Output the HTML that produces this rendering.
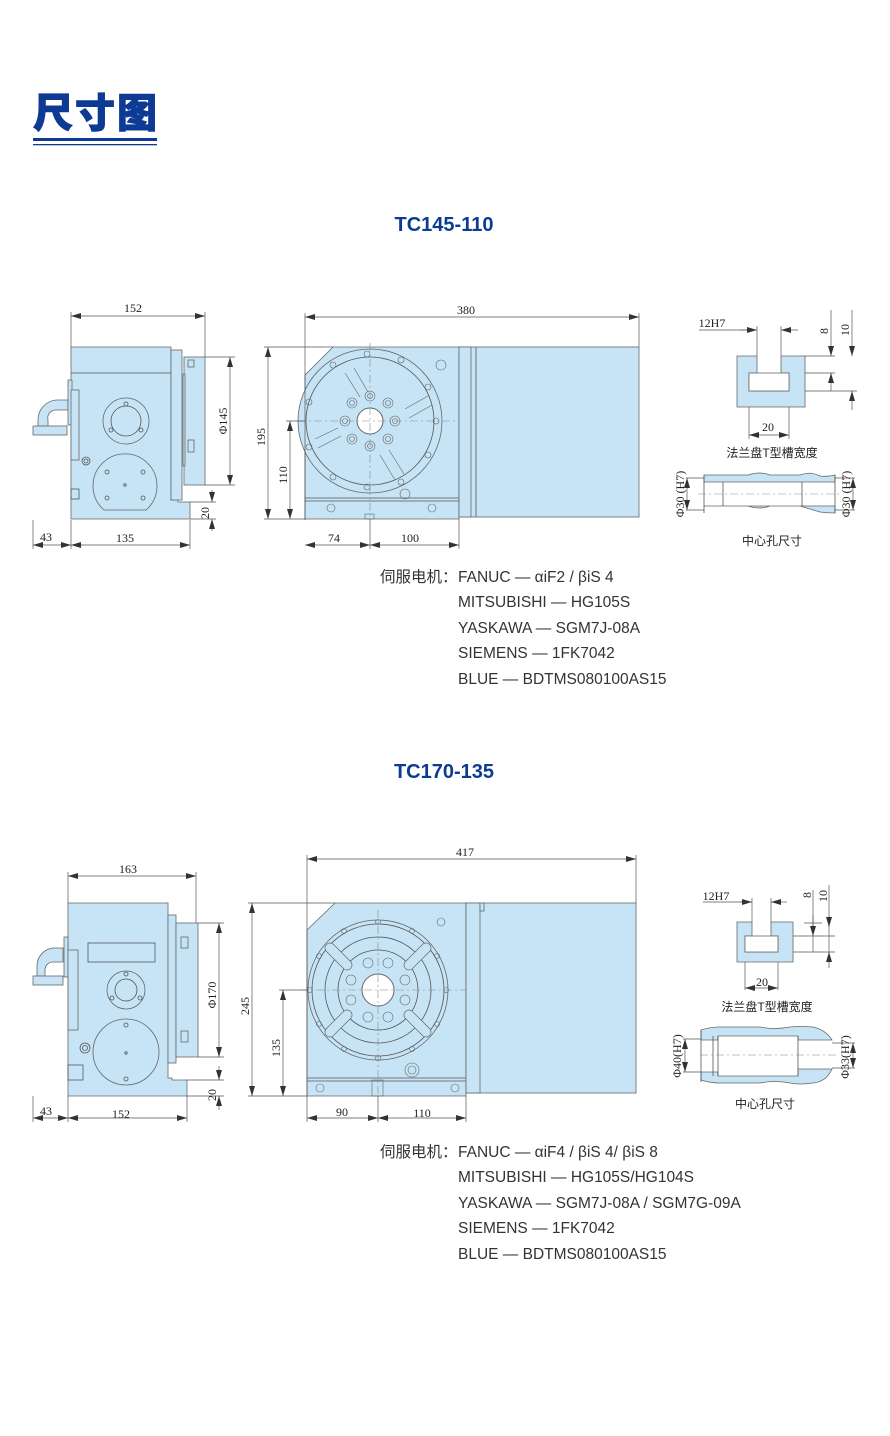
<!DOCTYPE html>
<html><head><meta charset="utf-8"><style>
html,body{margin:0;padding:0;background:#fff;}
svg{display:block}
.d{stroke:#555;stroke-width:.7;fill:none}
.b{fill:#c6e4f6;stroke:#666;stroke-width:.8}
.l{fill:none;stroke:#555;stroke-width:.8}
.c{stroke:#888;stroke-width:.6;stroke-dasharray:8 3 2 3;fill:none}
.n{font-family:"Liberation Serif",serif;font-size:12px;fill:#222}
.cn{font-family:"Liberation Sans","Noto Sans CJK SC",sans-serif;font-size:12px;fill:#222}
.t{font-family:"Liberation Sans","Noto Sans CJK SC",sans-serif;font-size:15.5px;fill:#333}
.h{font-family:"Liberation Sans",sans-serif;font-size:20px;font-weight:bold;fill:#0d3b94}
</style></head><body>
<svg width="890" height="1436" viewBox="0 0 890 1436" xmlns="http://www.w3.org/2000/svg">
<defs>
<marker id="a" viewBox="0 0 10 6" refX="10" refY="3" markerWidth="10" markerHeight="6" orient="auto-start-reverse" markerUnits="userSpaceOnUse"><path d="M0,0 L10,3 L0,6z" fill="#333"/></marker>
</defs>
<text x="33" y="127" font-family="Liberation Sans,Noto Sans CJK SC,sans-serif" font-size="40" font-weight="900" fill="#0d3b94" stroke="#0d3b94" stroke-width="1" textLength="124">尺寸图</text>
<rect x="33" y="138" width="124" height="3" fill="#0d3b94"/>
<rect x="33" y="144" width="124" height="1.3" fill="#0d3b94"/>

<!-- ===== SECTION 1 ===== -->
<text class="h" x="444" y="231" text-anchor="middle">TC145-110</text>
<g>
<path class="b" d="M71,347 H171 V500 H178 V502 H190 V519 H71Z"/>
<line class="l" x1="71" y1="373" x2="171" y2="373"/>
<rect class="b" x="171" y="350" width="11" height="150"/>
<rect class="b" x="184" y="357" width="21" height="128"/>
<rect class="b" x="183" y="374" width="2" height="92"/>
<rect class="b" x="188" y="360" width="6" height="7"/><rect class="b" x="188" y="440" width="6" height="12"/>
<path class="b" d="M68,400 H56 A20,20 0 0 0 38,420 V426 H48 V420 A8,8 0 0 1 56,410 H68Z"/>
<rect class="b" x="33" y="426" width="34" height="9"/>
<rect class="b" x="68" y="380" width="4" height="45"/>
<rect class="b" x="71" y="390" width="8" height="70"/>
<circle class="b" cx="126" cy="421" r="23"/><circle class="l" cx="126" cy="421" r="15" stroke-width=".4"/>
<circle class="l" cx="126" cy="404" r="2"/><circle class="l" cx="111" cy="430" r="2"/><circle class="l" cx="141" cy="430" r="2"/>
<path class="b" d="M104,510 A32,32 0 1 1 146,510Z"/>
<circle class="l" cx="125" cy="485" r="1.2"/>
<circle class="l" cx="107" cy="472" r="2"/><circle class="l" cx="143" cy="472" r="2"/><circle class="l" cx="107" cy="498" r="2"/><circle class="l" cx="143" cy="498" r="2"/>
<circle class="l" cx="86" cy="461" r="4"/><circle class="l" cx="86" cy="461" r="2"/>
<rect class="l" x="71" y="489" width="8" height="10"/>
</g>
<line class="d" x1="71" y1="312" x2="71" y2="347"/><line class="d" x1="205" y1="312" x2="205" y2="357"/>
<line class="d" x1="71" y1="316" x2="205" y2="316" marker-start="url(#a)" marker-end="url(#a)"/>
<text class="n" x="133" y="312" text-anchor="middle">152</text>
<line class="d" x1="205" y1="357" x2="235" y2="357"/><line class="d" x1="205" y1="485" x2="235" y2="485"/>
<line class="d" x1="230" y1="357" x2="230" y2="485" marker-start="url(#a)" marker-end="url(#a)"/>
<text class="n" transform="translate(227,421) rotate(-90)" text-anchor="middle">Φ145</text>
<line class="d" x1="190" y1="502" x2="216" y2="502"/><line class="d" x1="190" y1="519" x2="216" y2="519"/>
<line class="d" x1="212" y1="490" x2="212" y2="502" marker-end="url(#a)"/><line class="d" x1="212" y1="531" x2="212" y2="519" marker-end="url(#a)"/>
<text class="n" transform="translate(209,513) rotate(-90)" text-anchor="middle">20</text>
<line class="d" x1="33" y1="520" x2="33" y2="549"/><line class="d" x1="71" y1="520" x2="71" y2="549"/><line class="d" x1="190" y1="520" x2="190" y2="549"/>
<line class="d" x1="33" y1="545" x2="71" y2="545" marker-start="url(#a)" marker-end="url(#a)"/>
<line class="d" x1="71" y1="545" x2="190" y2="545" marker-start="url(#a)" marker-end="url(#a)"/>
<text class="n" x="46" y="541" text-anchor="middle">43</text><text class="n" x="125" y="542" text-anchor="middle">135</text>

<g>
<path class="b" d="M305,375 L333,347 H459 V519 H305Z"/>
<line class="l" x1="305" y1="498" x2="459" y2="498"/><line class="l" x1="305" y1="501" x2="459" y2="501"/>
<rect class="b" x="459" y="347" width="180" height="170"/>
<rect class="b" x="459" y="347" width="12" height="170"/>
<line class="l" x1="476" y1="347" x2="476" y2="517"/>
<circle class="b" cx="370" cy="421" r="72"/><circle class="l" cx="370" cy="421" r="64" stroke-width=".6"/>
<g fill="none" stroke="#666" stroke-width=".6">
<path d="M345,373 L360,397 M354,368 L368,392"/>
<path d="M405,409 L428,396 M409,418 L432,405"/>
<path d="M380,455 L395,480 M389,450 L404,474"/>
<path d="M315,439 L338,428 M318,448 L341,436"/>
</g>
<circle cx="370" cy="421" r="13" fill="#fff" stroke="#666"/>
<g fill="none" stroke="#666" stroke-width=".6">
<circle cx="370" cy="396" r="5"/><circle cx="370" cy="396" r="2.5"/>
<circle cx="370" cy="446" r="5"/><circle cx="370" cy="446" r="2.5"/>
<circle cx="345" cy="421" r="5"/><circle cx="345" cy="421" r="2.5"/>
<circle cx="395" cy="421" r="5"/><circle cx="395" cy="421" r="2.5"/>
<circle cx="352" cy="403" r="5"/><circle cx="352" cy="403" r="2.5"/>
<circle cx="388" cy="403" r="5"/><circle cx="388" cy="403" r="2.5"/>
<circle cx="352" cy="439" r="5"/><circle cx="352" cy="439" r="2.5"/>
<circle cx="388" cy="439" r="5"/><circle cx="388" cy="439" r="2.5"/>
<circle cx="367" cy="354" r="3"/><circle cx="367" cy="487" r="3"/><circle cx="436" cy="421" r="3"/><circle cx="309" cy="402" r="3"/>
<circle cx="333" cy="365" r="3"/><circle cx="401" cy="360" r="3"/><circle cx="428" cy="387" r="3"/><circle cx="428" cy="455" r="3"/>
<circle cx="333" cy="477" r="3"/><circle cx="401" cy="482" r="3"/><circle cx="309" cy="447" r="3"/>
<circle cx="441" cy="365" r="5"/><circle cx="405" cy="494" r="5"/><circle cx="331" cy="508" r="4"/><circle cx="432" cy="508" r="4"/>
<rect x="365" y="514" width="9" height="5"/>
</g>
<line class="c" x1="298" y1="421" x2="459" y2="421"/><line class="c" x1="370" y1="343" x2="370" y2="519"/>
</g>
<line class="d" x1="305" y1="313" x2="305" y2="520"/><line class="d" x1="639" y1="313" x2="639" y2="347"/>
<line class="d" x1="305" y1="317" x2="639" y2="317" marker-start="url(#a)" marker-end="url(#a)"/>
<text class="n" x="466" y="314" text-anchor="middle">380</text>
<line class="d" x1="264" y1="347" x2="333" y2="347"/><line class="d" x1="264" y1="519" x2="305" y2="519"/>
<line class="d" x1="268" y1="347" x2="268" y2="519" marker-start="url(#a)" marker-end="url(#a)"/>
<text class="n" transform="translate(265,437) rotate(-90)" text-anchor="middle">195</text>
<line class="d" x1="286" y1="421" x2="305" y2="421"/>
<line class="d" x1="290" y1="421" x2="290" y2="519" marker-start="url(#a)" marker-end="url(#a)"/>
<text class="n" transform="translate(287,475) rotate(-90)" text-anchor="middle">110</text>
<line class="d" x1="370" y1="519" x2="370" y2="549"/><line class="d" x1="459" y1="519" x2="459" y2="549"/>
<line class="d" x1="305" y1="545" x2="370" y2="545" marker-start="url(#a)" marker-end="url(#a)"/>
<line class="d" x1="370" y1="545" x2="459" y2="545" marker-start="url(#a)" marker-end="url(#a)"/>
<text class="n" x="334" y="542" text-anchor="middle">74</text><text class="n" x="410" y="542" text-anchor="middle">100</text>

<path class="b" d="M737,356 H757 V373 H749 V391 H789 V373 H781 V356 H805 V407 H737Z"/>
<rect x="749" y="373" width="40" height="18" fill="#fff" stroke="#666" stroke-width=".8"/>
<line class="d" x1="757" y1="356" x2="757" y2="326"/><line class="d" x1="781" y1="356" x2="781" y2="326"/>
<line class="d" x1="699" y1="330" x2="757" y2="330"/>
<line class="d" x1="740" y1="330" x2="757" y2="330" marker-end="url(#a)"/><line class="d" x1="798" y1="330" x2="781" y2="330" marker-end="url(#a)"/>
<text class="n" x="712" y="327" text-anchor="middle" font-size="11">12H7</text>
<line class="d" x1="749" y1="407" x2="749" y2="439"/><line class="d" x1="789" y1="407" x2="789" y2="439"/>
<line class="d" x1="749" y1="435" x2="789" y2="435" marker-start="url(#a)" marker-end="url(#a)"/>
<text class="n" x="768" y="431" text-anchor="middle" font-size="11">20</text>
<line class="d" x1="805" y1="356" x2="835" y2="356"/><line class="d" x1="805" y1="373" x2="835" y2="373"/><line class="d" x1="805" y1="391" x2="857" y2="391"/>
<line class="d" x1="831" y1="310" x2="831" y2="356" marker-end="url(#a)"/><line class="d" x1="831" y1="391" x2="831" y2="373" marker-end="url(#a)"/>
<line class="d" x1="852" y1="310" x2="852" y2="356" marker-end="url(#a)"/><line class="d" x1="852" y1="410" x2="852" y2="391" marker-end="url(#a)"/>
<text class="n" transform="translate(828,331) rotate(-90)" text-anchor="middle" font-size="11">8</text>
<text class="n" transform="translate(849,330) rotate(-90)" text-anchor="middle" font-size="11">10</text>
<text class="cn" x="772" y="457" text-anchor="middle">法兰盘T型槽宽度</text>
<path class="b" d="M704,475 H748 Q760,471 770,475 H800 Q810,471 820,476 Q827,477 835,475 V482 H704Z"/>
<path class="b" d="M704,506 H748 Q760,510 770,506 H800 Q810,509 820,512 Q827,513 835,513 V506 H704Z"/>
<line class="l" x1="704" y1="475" x2="704" y2="513" stroke-width=".5"/><line class="l" x1="723" y1="482" x2="723" y2="506" stroke-width=".5"/>
<line class="l" x1="802" y1="482" x2="802" y2="506" stroke-width=".5"/><line class="l" x1="835" y1="475" x2="835" y2="513" stroke-width=".5"/>
<line class="c" x1="698" y1="494" x2="840" y2="494"/>
<line class="d" x1="686" y1="478" x2="704" y2="478"/><line class="d" x1="686" y1="510" x2="704" y2="510"/>
<line class="d" x1="687" y1="478" x2="687" y2="510" marker-start="url(#a)" marker-end="url(#a)"/>
<text class="n" transform="translate(684,494) rotate(-90)" text-anchor="middle" font-size="11">Φ30 (H7)</text>
<line class="d" x1="835" y1="478" x2="855" y2="478"/><line class="d" x1="835" y1="510" x2="855" y2="510"/>
<line class="d" x1="853" y1="478" x2="853" y2="510" marker-start="url(#a)" marker-end="url(#a)"/>
<text class="n" transform="translate(850,494) rotate(-90)" text-anchor="middle" font-size="11">Φ30 (H7)</text>
<text class="cn" x="772" y="545" text-anchor="middle">中心孔尺寸</text>

<text class="t" x="380" y="582">伺服电机：</text>
<text class="t" x="458" y="582">FANUC — αiF2 / βiS 4</text>
<text class="t" x="458" y="607">MITSUBISHI — HG105S</text>
<text class="t" x="458" y="633">YASKAWA — SGM7J-08A</text>
<text class="t" x="458" y="658">SIEMENS — 1FK7042</text>
<text class="t" x="458" y="684">BLUE —  BDTMS080100AS15</text>

<!-- ===== SECTION 2 ===== -->
<text class="h" x="444" y="778" text-anchor="middle">TC170-135</text>
<g>
<path class="b" d="M68,903 H168 V1078 H172 V1080 H187 V1096 H68Z"/>
<rect class="b" x="168" y="915" width="8" height="148"/>
<rect class="b" x="176" y="923" width="22" height="134"/>
<rect class="b" x="181" y="937" width="7" height="11"/><rect class="b" x="181" y="1031" width="7" height="11"/>
<path class="b" d="M63,948 H53 A18,18 0 0 0 37,966 V976 H45 V970 A8,8 0 0 1 53,962 H63Z"/>
<rect class="b" x="33" y="976" width="30" height="9"/>
<rect class="b" x="64" y="937" width="4" height="40"/>
<rect class="b" x="68" y="950" width="10" height="80"/>
<rect class="l" x="88" y="943" width="67" height="19" stroke-width=".6"/>
<circle class="b" cx="126" cy="990" r="19"/><circle class="l" cx="126" cy="990" r="11"/>
<circle class="l" cx="126" cy="974" r="2"/><circle class="l" cx="112" cy="998" r="2"/><circle class="l" cx="140" cy="998" r="2"/>
<circle class="b" cx="126" cy="1052" r="33"/>
<circle class="l" cx="126" cy="1053" r="1.2"/><circle class="l" cx="126" cy="1025" r="2"/><circle class="l" cx="126" cy="1079" r="2"/>
<circle class="l" cx="85" cy="1048" r="5"/><circle class="l" cx="85" cy="1048" r="2.5"/>
<rect class="l" x="68" y="1065" width="15" height="15"/>
</g>
<line class="d" x1="68" y1="872" x2="68" y2="903"/><line class="d" x1="196" y1="872" x2="196" y2="923"/>
<line class="d" x1="68" y1="876" x2="196" y2="876" marker-start="url(#a)" marker-end="url(#a)"/>
<text class="n" x="128" y="873" text-anchor="middle">163</text>
<line class="d" x1="198" y1="923" x2="224" y2="923"/><line class="d" x1="198" y1="1057" x2="224" y2="1057"/>
<line class="d" x1="219" y1="923" x2="219" y2="1057" marker-start="url(#a)" marker-end="url(#a)"/>
<text class="n" transform="translate(216,995) rotate(-90)" text-anchor="middle">Φ170</text>
<line class="d" x1="187" y1="1080" x2="224" y2="1080"/><line class="d" x1="187" y1="1096" x2="224" y2="1096"/>
<line class="d" x1="219" y1="1066" x2="219" y2="1080" marker-end="url(#a)"/><line class="d" x1="219" y1="1110" x2="219" y2="1096" marker-end="url(#a)"/>
<text class="n" transform="translate(216,1095) rotate(-90)" text-anchor="middle">20</text>
<line class="d" x1="33" y1="1096" x2="33" y2="1122"/><line class="d" x1="68" y1="1096" x2="68" y2="1122"/><line class="d" x1="187" y1="1096" x2="187" y2="1122"/>
<line class="d" x1="33" y1="1118" x2="68" y2="1118" marker-start="url(#a)" marker-end="url(#a)"/>
<line class="d" x1="68" y1="1118" x2="187" y2="1118" marker-start="url(#a)" marker-end="url(#a)"/>
<text class="n" x="46" y="1115" text-anchor="middle">43</text><text class="n" x="121" y="1118" text-anchor="middle">152</text>

<g>
<path class="b" d="M307,930 L335,903 H466 V1096 H307Z"/>
<line class="l" x1="307" y1="1078" x2="466" y2="1078"/><line class="l" x1="307" y1="1081" x2="466" y2="1081"/>
<rect class="b" x="466" y="903" width="170" height="190"/>
<rect class="b" x="466" y="903" width="14" height="190"/>
<rect class="b" x="480" y="903" width="4" height="8"/>
<circle class="b" cx="378" cy="990" r="70"/><circle class="l" cx="378" cy="990" r="66" stroke-width=".4"/>
<circle class="l" cx="378" cy="990" r="53"/><circle class="l" cx="378" cy="990" r="40"/>
<g stroke="#666" stroke-width=".7" fill="#c6e4f6">
<path d="M333,944 L351,962 A5,5 0 0 1 344,969 L326,951 A5,5 0 0 1 333,944Z"/>
<path d="M423,944 L405,962 A5,5 0 0 0 412,969 L430,951 A5,5 0 0 0 423,944Z"/>
<path d="M333,1036 L351,1018 A5,5 0 0 0 344,1011 L326,1029 A5,5 0 0 0 333,1036Z"/>
<path d="M423,1036 L405,1018 A5,5 0 0 1 412,1011 L430,1029 A5,5 0 0 1 423,1036Z"/>
</g>
<circle cx="378" cy="990" r="16" fill="#fff" stroke="#666"/>
<g fill="none" stroke="#666" stroke-width=".6">
<circle cx="368" cy="963" r="5"/><circle cx="388" cy="963" r="5"/><circle cx="368" cy="1017" r="5"/><circle cx="388" cy="1017" r="5"/>
<circle cx="351" cy="980" r="5"/><circle cx="351" cy="1000" r="5"/><circle cx="405" cy="980" r="5"/><circle cx="405" cy="1000" r="5"/>
<circle cx="378" cy="922" r="2.5"/><circle cx="378" cy="1058" r="2.5"/><circle cx="310" cy="990" r="2.5"/><circle cx="446" cy="990" r="2.5"/>
<circle cx="344" cy="931" r="2.5"/><circle cx="412" cy="931" r="2.5"/><circle cx="319" cy="956" r="2.5"/><circle cx="437" cy="956" r="2.5"/>
<circle cx="319" cy="1024" r="2.5"/><circle cx="437" cy="1024" r="2.5"/><circle cx="344" cy="1049" r="2.5"/><circle cx="412" cy="1049" r="2.5"/>
<circle cx="441" cy="922" r="4"/><circle cx="320" cy="1088" r="4"/><circle cx="455" cy="1088" r="4"/>
<circle cx="412" cy="1070" r="7"/><circle cx="412" cy="1070" r="4"/>
<rect x="372" y="1080" width="11" height="16"/>
</g>
<line class="c" x1="300" y1="990" x2="466" y2="990"/><line class="c" x1="378" y1="910" x2="378" y2="1096"/>
</g>
<line class="d" x1="307" y1="855" x2="307" y2="1122"/><line class="d" x1="636" y1="855" x2="636" y2="903"/>
<line class="d" x1="307" y1="859" x2="636" y2="859" marker-start="url(#a)" marker-end="url(#a)"/>
<text class="n" x="465" y="856" text-anchor="middle">417</text>
<line class="d" x1="248" y1="903" x2="335" y2="903"/><line class="d" x1="248" y1="1096" x2="307" y2="1096"/>
<line class="d" x1="252" y1="903" x2="252" y2="1096" marker-start="url(#a)" marker-end="url(#a)"/>
<text class="n" transform="translate(249,1006) rotate(-90)" text-anchor="middle">245</text>
<line class="d" x1="279" y1="990" x2="307" y2="990"/>
<line class="d" x1="283" y1="990" x2="283" y2="1096" marker-start="url(#a)" marker-end="url(#a)"/>
<text class="n" transform="translate(280,1048) rotate(-90)" text-anchor="middle">135</text>
<line class="d" x1="378" y1="1096" x2="378" y2="1122"/><line class="d" x1="466" y1="1096" x2="466" y2="1122"/>
<line class="d" x1="307" y1="1118" x2="378" y2="1118" marker-start="url(#a)" marker-end="url(#a)"/>
<line class="d" x1="378" y1="1118" x2="466" y2="1118" marker-start="url(#a)" marker-end="url(#a)"/>
<text class="n" x="342" y="1116" text-anchor="middle">90</text><text class="n" x="422" y="1117" text-anchor="middle">110</text>

<path class="b" d="M737,922 H752 V936 H745 V952 H778 V936 H771 V922 H793 V962 H737Z"/>
<rect x="745" y="936" width="33" height="16" fill="#fff" stroke="#666" stroke-width=".8"/>
<line class="d" x1="752" y1="922" x2="752" y2="898"/><line class="d" x1="771" y1="922" x2="771" y2="898"/>
<line class="d" x1="703" y1="902" x2="752" y2="902"/>
<line class="d" x1="740" y1="902" x2="752" y2="902" marker-end="url(#a)"/><line class="d" x1="787" y1="902" x2="771" y2="902" marker-end="url(#a)"/>
<text class="n" x="716" y="900" text-anchor="middle" font-size="11">12H7</text>
<line class="d" x1="745" y1="962" x2="745" y2="990"/><line class="d" x1="778" y1="962" x2="778" y2="990"/>
<line class="d" x1="745" y1="988" x2="778" y2="988" marker-start="url(#a)" marker-end="url(#a)"/>
<text class="n" x="762" y="986" text-anchor="middle" font-size="11">20</text>
<line class="d" x1="804" y1="923" x2="822" y2="923"/><line class="d" x1="793" y1="936" x2="835" y2="936"/><line class="d" x1="793" y1="952" x2="835" y2="952"/>
<line class="d" x1="813" y1="890" x2="813" y2="936"/>
<line class="d" x1="813" y1="915" x2="813" y2="936" marker-end="url(#a)"/><line class="d" x1="813" y1="952" x2="813" y2="936"/>
<line class="d" x1="829" y1="885" x2="829" y2="968"/>
<line class="d" x1="829" y1="920" x2="829" y2="927" marker-end="url(#a)"/><line class="d" x1="829" y1="962" x2="829" y2="952" marker-end="url(#a)"/>
<text class="n" transform="translate(811,895) rotate(-90)" text-anchor="middle" font-size="11">8</text>
<text class="n" transform="translate(827,896) rotate(-90)" text-anchor="middle" font-size="11">10</text>
<text class="cn" x="767" y="1011" text-anchor="middle">法兰盘T型槽宽度</text>
<path class="b" d="M701,1030 Q710,1027 720,1027 H760 Q775,1030 790,1027 Q800,1026 813,1027 Q826,1030 832,1040 H798 V1036 H718 V1040 H701Z"/>
<path class="b" d="M701,1076 V1072 H718 V1076 H798 V1069 H832 Q826,1082 813,1083 Q800,1085 790,1083 Q775,1080 760,1083 H720 Q710,1083 701,1080Z"/>
<line class="l" x1="701" y1="1030" x2="701" y2="1082" stroke-width=".5"/><line class="l" x1="713" y1="1036" x2="713" y2="1076" stroke-width=".5"/>
<line class="l" x1="718" y1="1036" x2="718" y2="1076" stroke-width=".5"/><line class="l" x1="798" y1="1036" x2="798" y2="1076" stroke-width=".5"/>
<line class="c" x1="700" y1="1055" x2="838" y2="1055"/>
<line class="d" x1="683" y1="1039" x2="701" y2="1039"/><line class="d" x1="683" y1="1072" x2="701" y2="1072"/>
<line class="d" x1="685" y1="1039" x2="685" y2="1072" marker-start="url(#a)" marker-end="url(#a)"/>
<text class="n" transform="translate(681,1056) rotate(-90)" text-anchor="middle" font-size="11">Φ40(H7)</text>
<line class="d" x1="832" y1="1043" x2="855" y2="1043"/><line class="d" x1="832" y1="1068" x2="855" y2="1068"/>
<line class="d" x1="853" y1="1043" x2="853" y2="1068" marker-start="url(#a)" marker-end="url(#a)"/>
<text class="n" transform="translate(849,1057) rotate(-90)" text-anchor="middle" font-size="11">Φ33(H7)</text>
<text class="cn" x="765" y="1108" text-anchor="middle">中心孔尺寸</text>

<text class="t" x="380" y="1157">伺服电机：</text>
<text class="t" x="458" y="1157">FANUC — αiF4 / βiS 4/ βiS 8</text>
<text class="t" x="458" y="1182">MITSUBISHI — HG105S/HG104S</text>
<text class="t" x="458" y="1208">YASKAWA — SGM7J-08A / SGM7G-09A</text>
<text class="t" x="458" y="1233">SIEMENS — 1FK7042</text>
<text class="t" x="458" y="1259">BLUE —  BDTMS080100AS15</text>
</svg>
</body></html>
